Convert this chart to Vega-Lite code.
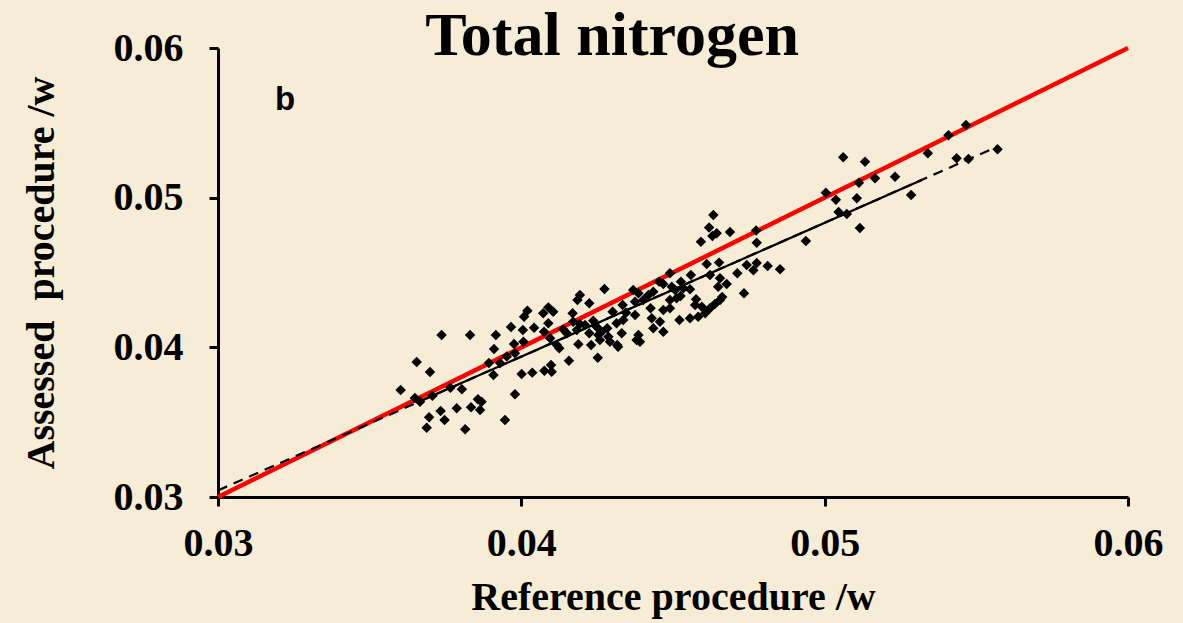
{
  "$schema": "https://vega.github.io/schema/vega-lite/v6.json",
  "width": 910,
  "height": 449,
  "autosize": "none",
  "padding": {"left": 218, "top": 48, "right": 55, "bottom": 126},
  "background": "#F7EDD6",
  "config": {
    "view": {"stroke": null},
    "axis": {
      "grid": false,
      "domainColor": "black",
      "domainWidth": 3,
      "tickColor": "black",
      "tickWidth": 3,
      "tickSize": 9,
      "labelFont": "Liberation Serif",
      "labelFontSize": 40,
      "labelFontWeight": "bold",
      "labelColor": "black",
      "labelFlush": false,
      "labelOverlap": false,
      "titleFont": "Liberation Serif",
      "titleFontSize": 40,
      "titleFontWeight": "bold",
      "titleColor": "black"
    }
  },
  "datasets": {
    "points": [
      {"x": 0.03737, "y": 0.04082}, {"x": 0.03831, "y": 0.04082}, {"x": 0.03916, "y": 0.04082}, {"x": 0.03910, "y": 0.03989},
      {"x": 0.03655, "y": 0.03902}, {"x": 0.03699, "y": 0.03835}, {"x": 0.03893, "y": 0.03895}, {"x": 0.03930, "y": 0.03895},
      {"x": 0.03952, "y": 0.03939}, {"x": 0.03908, "y": 0.03815}, {"x": 0.03602, "y": 0.03715}, {"x": 0.03649, "y": 0.03661},
      {"x": 0.03666, "y": 0.03637}, {"x": 0.03707, "y": 0.03677}, {"x": 0.03766, "y": 0.03730}, {"x": 0.03804, "y": 0.03720},
      {"x": 0.03857, "y": 0.03653}, {"x": 0.03869, "y": 0.03637}, {"x": 0.03864, "y": 0.03581}, {"x": 0.03834, "y": 0.03599},
      {"x": 0.03787, "y": 0.03593}, {"x": 0.03734, "y": 0.03575}, {"x": 0.03747, "y": 0.03514}, {"x": 0.03696, "y": 0.03533},
      {"x": 0.03688, "y": 0.03463}, {"x": 0.03815, "y": 0.03452}, {"x": 0.03946, "y": 0.03514}, {"x": 0.03979, "y": 0.03686},
      {"x": 0.03966, "y": 0.04136}, {"x": 0.03976, "y": 0.04022}, {"x": 0.04274, "y": 0.04390}, {"x": 0.04193, "y": 0.04350},
      {"x": 0.04185, "y": 0.04316}, {"x": 0.04224, "y": 0.04294}, {"x": 0.04089, "y": 0.04267}, {"x": 0.04105, "y": 0.04238},
      {"x": 0.04020, "y": 0.04245}, {"x": 0.04072, "y": 0.04227}, {"x": 0.04009, "y": 0.04205}, {"x": 0.04169, "y": 0.04227},
      {"x": 0.04334, "y": 0.04283}, {"x": 0.04345, "y": 0.04231}, {"x": 0.04301, "y": 0.04238}, {"x": 0.04089, "y": 0.04161},
      {"x": 0.04005, "y": 0.04116}, {"x": 0.04042, "y": 0.04131}, {"x": 0.04075, "y": 0.04104}, {"x": 0.04171, "y": 0.04171},
      {"x": 0.04193, "y": 0.04156}, {"x": 0.04210, "y": 0.04149}, {"x": 0.04237, "y": 0.04178}, {"x": 0.04248, "y": 0.04138},
      {"x": 0.04283, "y": 0.04127}, {"x": 0.04314, "y": 0.04161}, {"x": 0.04336, "y": 0.04183}, {"x": 0.04138, "y": 0.04120},
      {"x": 0.04150, "y": 0.04094}, {"x": 0.04183, "y": 0.04116}, {"x": 0.04224, "y": 0.04094}, {"x": 0.04254, "y": 0.04082},
      {"x": 0.04265, "y": 0.04104}, {"x": 0.04331, "y": 0.04094}, {"x": 0.04007, "y": 0.04038}, {"x": 0.03979, "y": 0.03960},
      {"x": 0.04095, "y": 0.04060}, {"x": 0.04117, "y": 0.04016}, {"x": 0.04125, "y": 0.03994}, {"x": 0.04188, "y": 0.04020},
      {"x": 0.04230, "y": 0.04016}, {"x": 0.04259, "y": 0.04049}, {"x": 0.04292, "y": 0.04038}, {"x": 0.04316, "y": 0.04016},
      {"x": 0.04287, "y": 0.04071}, {"x": 0.04157, "y": 0.03911}, {"x": 0.04252, "y": 0.03931}, {"x": 0.04001, "y": 0.03822},
      {"x": 0.04036, "y": 0.03831}, {"x": 0.04076, "y": 0.03844}, {"x": 0.04098, "y": 0.03882}, {"x": 0.04100, "y": 0.03837},
      {"x": 0.04592, "y": 0.04706}, {"x": 0.04611, "y": 0.04557}, {"x": 0.04652, "y": 0.04566}, {"x": 0.04559, "y": 0.04483},
      {"x": 0.04490, "y": 0.04495}, {"x": 0.04712, "y": 0.04495}, {"x": 0.04655, "y": 0.04461}, {"x": 0.04649, "y": 0.04405},
      {"x": 0.04677, "y": 0.04423}, {"x": 0.04734, "y": 0.04361}, {"x": 0.04454, "y": 0.04439}, {"x": 0.04468, "y": 0.04423},
      {"x": 0.04526, "y": 0.04439}, {"x": 0.04496, "y": 0.04405}, {"x": 0.04507, "y": 0.04383}, {"x": 0.04534, "y": 0.04394},
      {"x": 0.04556, "y": 0.04388}, {"x": 0.04369, "y": 0.04383}, {"x": 0.04386, "y": 0.04361}, {"x": 0.04435, "y": 0.04372},
      {"x": 0.04419, "y": 0.04350}, {"x": 0.04375, "y": 0.04305}, {"x": 0.04402, "y": 0.04316}, {"x": 0.04490, "y": 0.04316},
      {"x": 0.04512, "y": 0.04328}, {"x": 0.04525, "y": 0.04343}, {"x": 0.04576, "y": 0.04321}, {"x": 0.04573, "y": 0.04283},
      {"x": 0.04655, "y": 0.04316}, {"x": 0.04638, "y": 0.04290}, {"x": 0.04622, "y": 0.04261}, {"x": 0.04595, "y": 0.04271},
      {"x": 0.04426, "y": 0.04261}, {"x": 0.04468, "y": 0.04249}, {"x": 0.04490, "y": 0.04261}, {"x": 0.04375, "y": 0.04216},
      {"x": 0.04430, "y": 0.04194}, {"x": 0.04457, "y": 0.04171}, {"x": 0.04521, "y": 0.04183}, {"x": 0.04556, "y": 0.04194},
      {"x": 0.04583, "y": 0.04205}, {"x": 0.04606, "y": 0.04227}, {"x": 0.04435, "y": 0.04127}, {"x": 0.04468, "y": 0.04104},
      {"x": 0.04386, "y": 0.04082}, {"x": 0.04380, "y": 0.04049}, {"x": 0.04319, "y": 0.04004}, {"x": 0.04391, "y": 0.04038},
      {"x": 0.04633, "y": 0.04884}, {"x": 0.04619, "y": 0.04801}, {"x": 0.04644, "y": 0.04762}, {"x": 0.04630, "y": 0.04744},
      {"x": 0.04688, "y": 0.04771}, {"x": 0.04774, "y": 0.04781}, {"x": 0.04776, "y": 0.04699}, {"x": 0.04743, "y": 0.04550},
      {"x": 0.04776, "y": 0.04563}, {"x": 0.04765, "y": 0.04515}, {"x": 0.04812, "y": 0.04543}, {"x": 0.04853, "y": 0.04521},
      {"x": 0.04622, "y": 0.04483}, {"x": 0.04662, "y": 0.04336}, {"x": 0.04938, "y": 0.04710}, {"x": 0.05046, "y": 0.04904},
      {"x": 0.05073, "y": 0.04891}, {"x": 0.05116, "y": 0.04797}, {"x": 0.05004, "y": 0.05033}, {"x": 0.05037, "y": 0.04986},
      {"x": 0.05106, "y": 0.04996}, {"x": 0.05113, "y": 0.05100}, {"x": 0.05166, "y": 0.05129}, {"x": 0.05232, "y": 0.05140},
      {"x": 0.05061, "y": 0.05270}, {"x": 0.05133, "y": 0.05240}, {"x": 0.05285, "y": 0.05018}, {"x": 0.05340, "y": 0.05296},
      {"x": 0.05408, "y": 0.05417}, {"x": 0.05466, "y": 0.05486}, {"x": 0.05435, "y": 0.05263}, {"x": 0.05474, "y": 0.05258},
      {"x": 0.05570, "y": 0.05323}
    ],
    "identity": [{"x": 0.03, "y": 0.03}, {"x": 0.06, "y": 0.06}],
    "fit": [
      {"x": 0.03, "y": 0.03044, "segment": "dashed"},
      {"x": 0.0557, "y": 0.05342, "segment": "dashed"},
      {"x": 0.0366, "y": 0.03634, "segment": "solid"},
      {"x": 0.0532, "y": 0.05118, "segment": "solid"}
    ],
    "labels": [
      {"text": "Total nitrogen", "kind": "title"},
      {"text": "b", "kind": "panel"}
    ]
  },
  "layer": [
    {
      "data": {"name": "identity"},
      "mark": {"type": "line", "color": "#FF0000", "strokeWidth": 4.5},
      "encoding": {
        "x": {
          "field": "x", "type": "quantitative",
          "scale": {"domain": [0.03, 0.06], "nice": false, "zero": false},
          "axis": {"values": [0.03, 0.04, 0.05, 0.06], "format": ".2f", "labelPadding": 17, "title": "Reference procedure /w", "titlePadding": 14}
        },
        "y": {
          "field": "y", "type": "quantitative",
          "scale": {"domain": [0.03, 0.06], "nice": false, "zero": false},
          "axis": {"values": [0.03, 0.04, 0.05, 0.06], "format": ".2f", "labelPadding": 26, "title": "Assessed\u00a0 procedure /w", "titlePadding": 52}
        }
      }
    },
    {
      "data": {"name": "fit"},
      "transform": [{"filter": "datum.segment === 'dashed'"}],
      "mark": {"type": "line", "color": "black", "strokeWidth": 2.2, "strokeDash": [10, 7]},
      "encoding": {
        "x": {"field": "x", "type": "quantitative"},
        "y": {"field": "y", "type": "quantitative"}
      }
    },
    {
      "data": {"name": "fit"},
      "transform": [{"filter": "datum.segment === 'solid'"}],
      "mark": {"type": "line", "color": "black", "strokeWidth": 2.2},
      "encoding": {
        "x": {"field": "x", "type": "quantitative"},
        "y": {"field": "y", "type": "quantitative"}
      }
    },
    {
      "data": {"name": "points"},
      "mark": {"type": "point", "shape": "diamond", "filled": true, "color": "black", "opacity": 1, "size": 110},
      "encoding": {
        "x": {"field": "x", "type": "quantitative"},
        "y": {"field": "y", "type": "quantitative"}
      }
    },
    {
      "data": {"name": "labels"},
      "transform": [{"filter": "datum.kind === 'title'"}],
      "mark": {"type": "text", "font": "Liberation Serif", "fontSize": 62, "fontWeight": "bold", "color": "black", "align": "center", "baseline": "alphabetic"},
      "encoding": {
        "x": {"datum": 0.04299, "type": "quantitative"},
        "y": {"datum": 0.05953, "type": "quantitative"},
        "text": {"field": "text"}
      }
    },
    {
      "data": {"name": "labels"},
      "transform": [{"filter": "datum.kind === 'panel'"}],
      "mark": {"type": "text", "font": "Liberation Sans", "fontSize": 33, "fontWeight": "bold", "color": "black", "align": "center", "baseline": "middle"},
      "encoding": {
        "x": {"datum": 0.03221, "type": "quantitative"},
        "y": {"datum": 0.05653, "type": "quantitative"},
        "text": {"field": "text"}
      }
    }
  ]
}
